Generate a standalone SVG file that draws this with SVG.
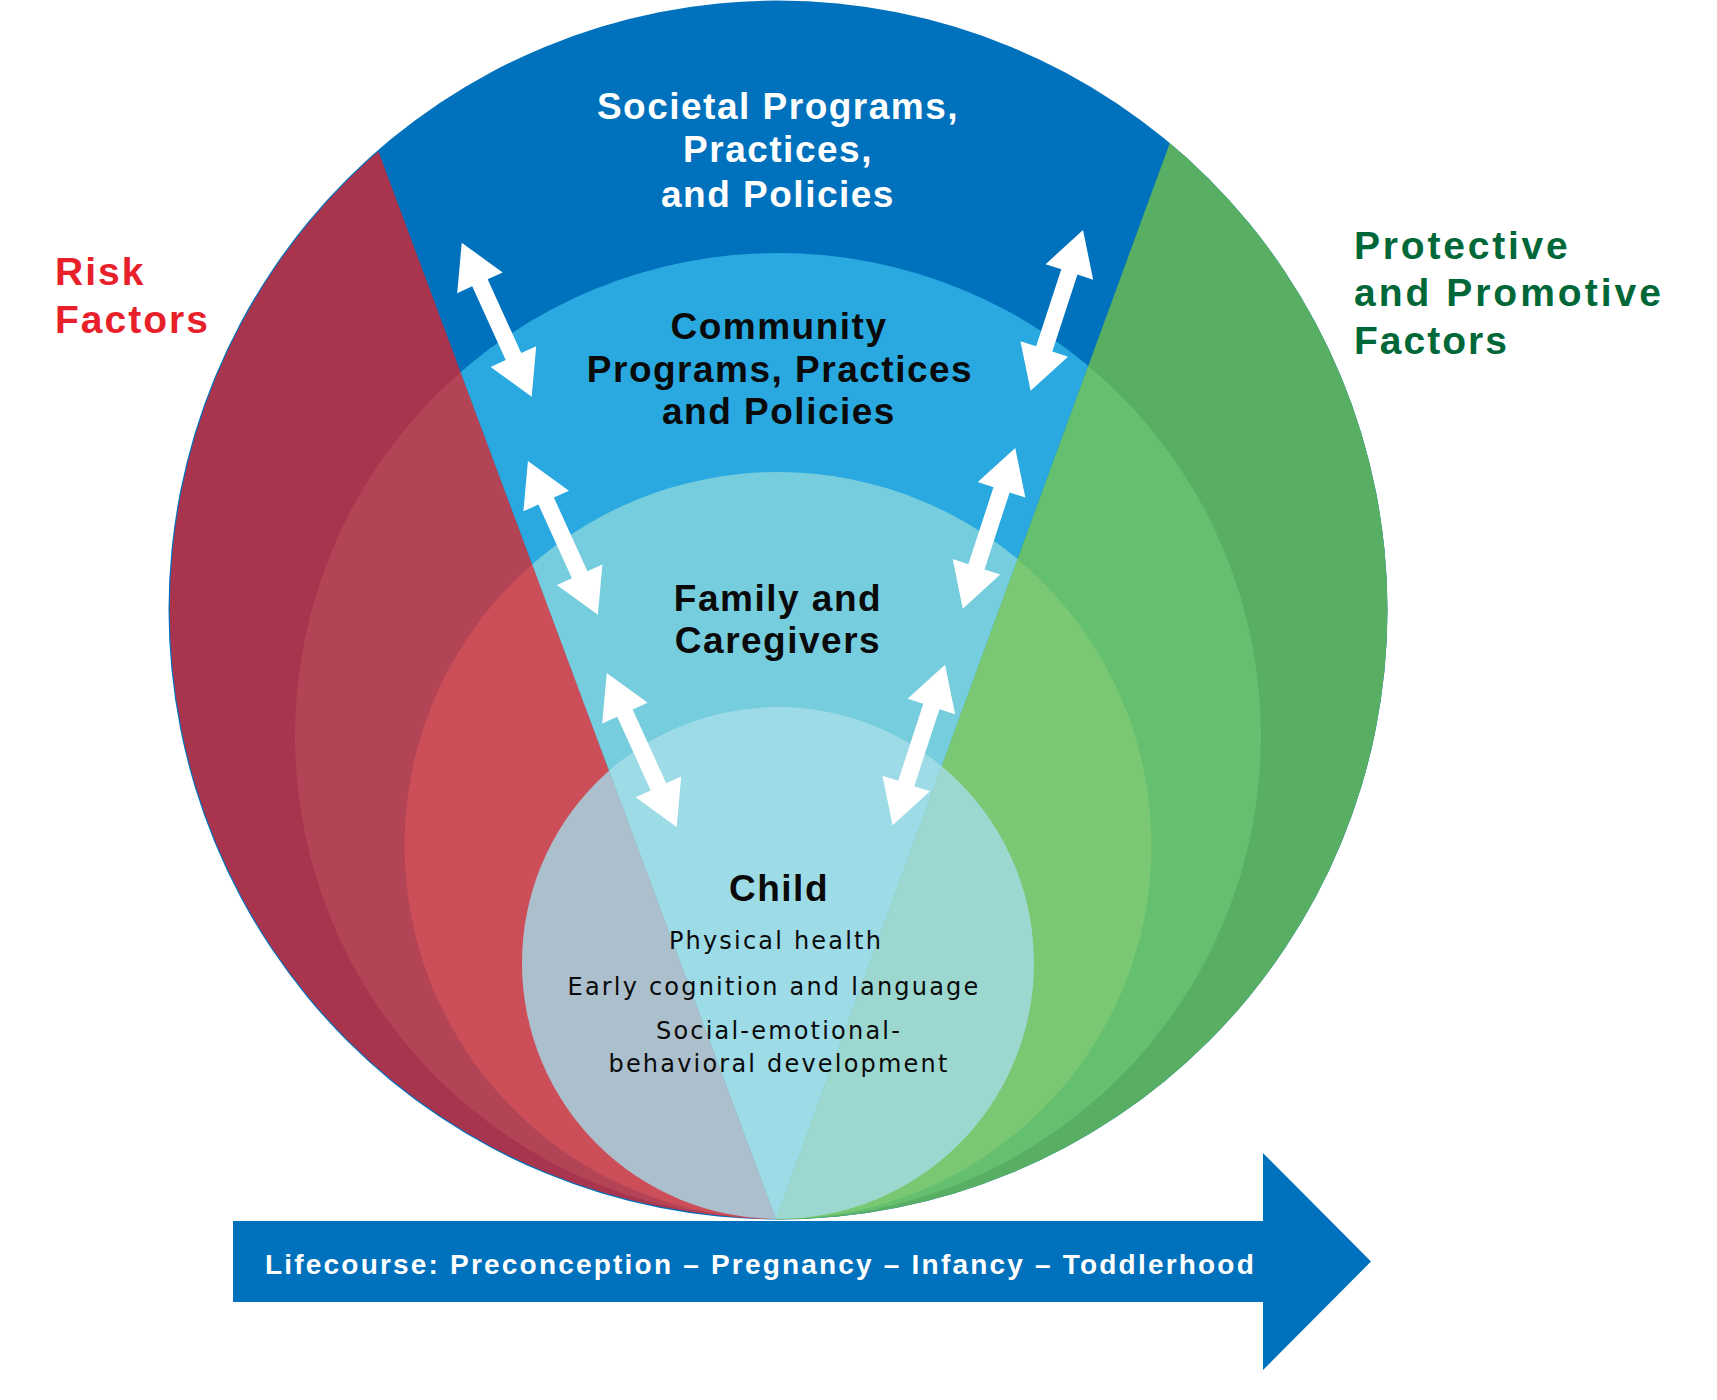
<svg xmlns="http://www.w3.org/2000/svg" xmlns:xlink="http://www.w3.org/1999/xlink" width="1717" height="1400" viewBox="0 0 1717 1400">
  <style>
    .head { font-family: "Liberation Sans", Arial, sans-serif; font-weight: bold; font-size: 37px; letter-spacing: 1.5px; text-anchor: middle; }
    .white { fill: #ffffff; }
    .black { fill: #0a0a0a; }
    .sub { font-family: "DejaVu Sans", sans-serif; font-size: 24px; letter-spacing: 2.2px; text-anchor: middle; fill: #0a0a0a; }
    .side { font-family: "Liberation Sans", Arial, sans-serif; font-weight: bold; font-size: 39px; letter-spacing: 2px; }
    .life { font-family: "Liberation Sans", Arial, sans-serif; font-weight: bold; font-size: 28px; letter-spacing: 2.2px; fill: #ffffff; }
    .arrow { fill: #ffffff; }
  </style>
  <defs>
    <clipPath id="clipLeft"><polygon points="776,1219 284.8,-100 -10,-100 -10,1410 776,1410"/></clipPath>
    <clipPath id="clipWedge"><polygon points="776,1219 284.8,-100 1258.8,-100"/></clipPath>
    <clipPath id="clipRight"><polygon points="776,1219 1258.8,-100 1727,-100 1727,1410 776,1410"/></clipPath>
    <path id="dbl" d="M-84.5,0 L-40.5,-25 L-40.5,-8.5 L40.5,-8.5 L40.5,-25 L84.5,0 L40.5,25 L40.5,8.5 L-40.5,8.5 L-40.5,25 Z"/>
  </defs>
  <rect width="1717" height="1400" fill="#ffffff"/>

  <g id="societal">
    <circle cx="778" cy="610" r="609.5" fill="#0071BC"/>
    <circle cx="778" cy="610" r="608.3" fill="#A8344E" clip-path="url(#clipLeft)"/>
    <circle cx="778" cy="610" r="609.5" fill="#58AF64" clip-path="url(#clipRight)"/>
    <text class="head white" x="778" y="119">Societal Programs,</text>
    <text class="head white" x="778" y="162">Practices,</text>
    <text class="head white" x="778" y="207">and Policies</text>
  </g>

  <g id="community">
    <circle cx="778" cy="736" r="483" fill="#B34456" clip-path="url(#clipLeft)"/>
    <circle cx="778" cy="736" r="483" fill="#29A9E0" clip-path="url(#clipWedge)"/>
    <circle cx="778" cy="736" r="483" fill="#64BF6E" clip-path="url(#clipRight)"/>
    <text class="head black" x="779" y="339">Community</text>
    <text class="head black" x="780" y="382">Programs, Practices</text>
    <text class="head black" x="779" y="424">and Policies</text>
  </g>

  <g id="family">
    <circle cx="778" cy="845.5" r="373.5" fill="#CC4E59" clip-path="url(#clipLeft)"/>
    <circle cx="778" cy="845.5" r="373.5" fill="#76CDDE" clip-path="url(#clipWedge)"/>
    <circle cx="778" cy="845.5" r="373.5" fill="#7AC873" clip-path="url(#clipRight)"/>
    <text class="head black" x="778" y="611">Family and</text>
    <text class="head black" x="778" y="653">Caregivers</text>
  </g>

  <g id="child">
    <circle cx="778" cy="963" r="256" fill="#ABBFCC" clip-path="url(#clipLeft)"/>
    <circle cx="778" cy="963" r="256" fill="#9DDBE6" clip-path="url(#clipWedge)"/>
    <circle cx="778" cy="963" r="256" fill="#9CD8D0" clip-path="url(#clipRight)"/>
    <text class="head black" x="779" y="901">Child</text>
    <text class="sub" x="776" y="949">Physical health</text>
    <text class="sub" x="774" y="995">Early cognition and language</text>
    <text class="sub" x="779" y="1039">Social-emotional-</text>
    <text class="sub" x="779" y="1072">behavioral development</text>
  </g>

  <g id="risk-factors">
    <text class="side" x="55" y="285" fill="#E8202A">Risk</text>
    <text class="side" x="55" y="333" fill="#E8202A">Factors</text>
  </g>

  <g id="protective-factors">
    <text class="side" x="1354" y="259" fill="#006838" style="letter-spacing:2.8px">Protective</text>
    <text class="side" x="1354" y="306" fill="#006838" style="letter-spacing:3px">and Promotive</text>
    <text class="side" x="1354" y="354" fill="#006838">Factors</text>
  </g>

  <g id="lifecourse">
    <polygon points="233,1221 1263,1221 1263,1153 1371,1261.5 1263,1370 1263,1302 233,1302" fill="#0071BC"/>
    <text class="life" x="265" y="1274">Lifecourse: Preconception – Pregnancy – Infancy – Toddlerhood</text>
  </g>

  <g id="connectors">
    <use xlink:href="#dbl" class="arrow" transform="translate(496.7,319.7) rotate(65.56)"/>
    <use xlink:href="#dbl" class="arrow" transform="translate(562.9,537.9) rotate(65.56)"/>
    <use xlink:href="#dbl" class="arrow" transform="translate(641.7,750) rotate(65.56)"/>
    <use xlink:href="#dbl" class="arrow" transform="translate(1056.8,310.4) rotate(108.08)"/>
    <use xlink:href="#dbl" class="arrow" transform="translate(989,528.3) rotate(108.08)"/>
    <use xlink:href="#dbl" class="arrow" transform="translate(918.8,745) rotate(108.08)"/>
  </g>
</svg>
